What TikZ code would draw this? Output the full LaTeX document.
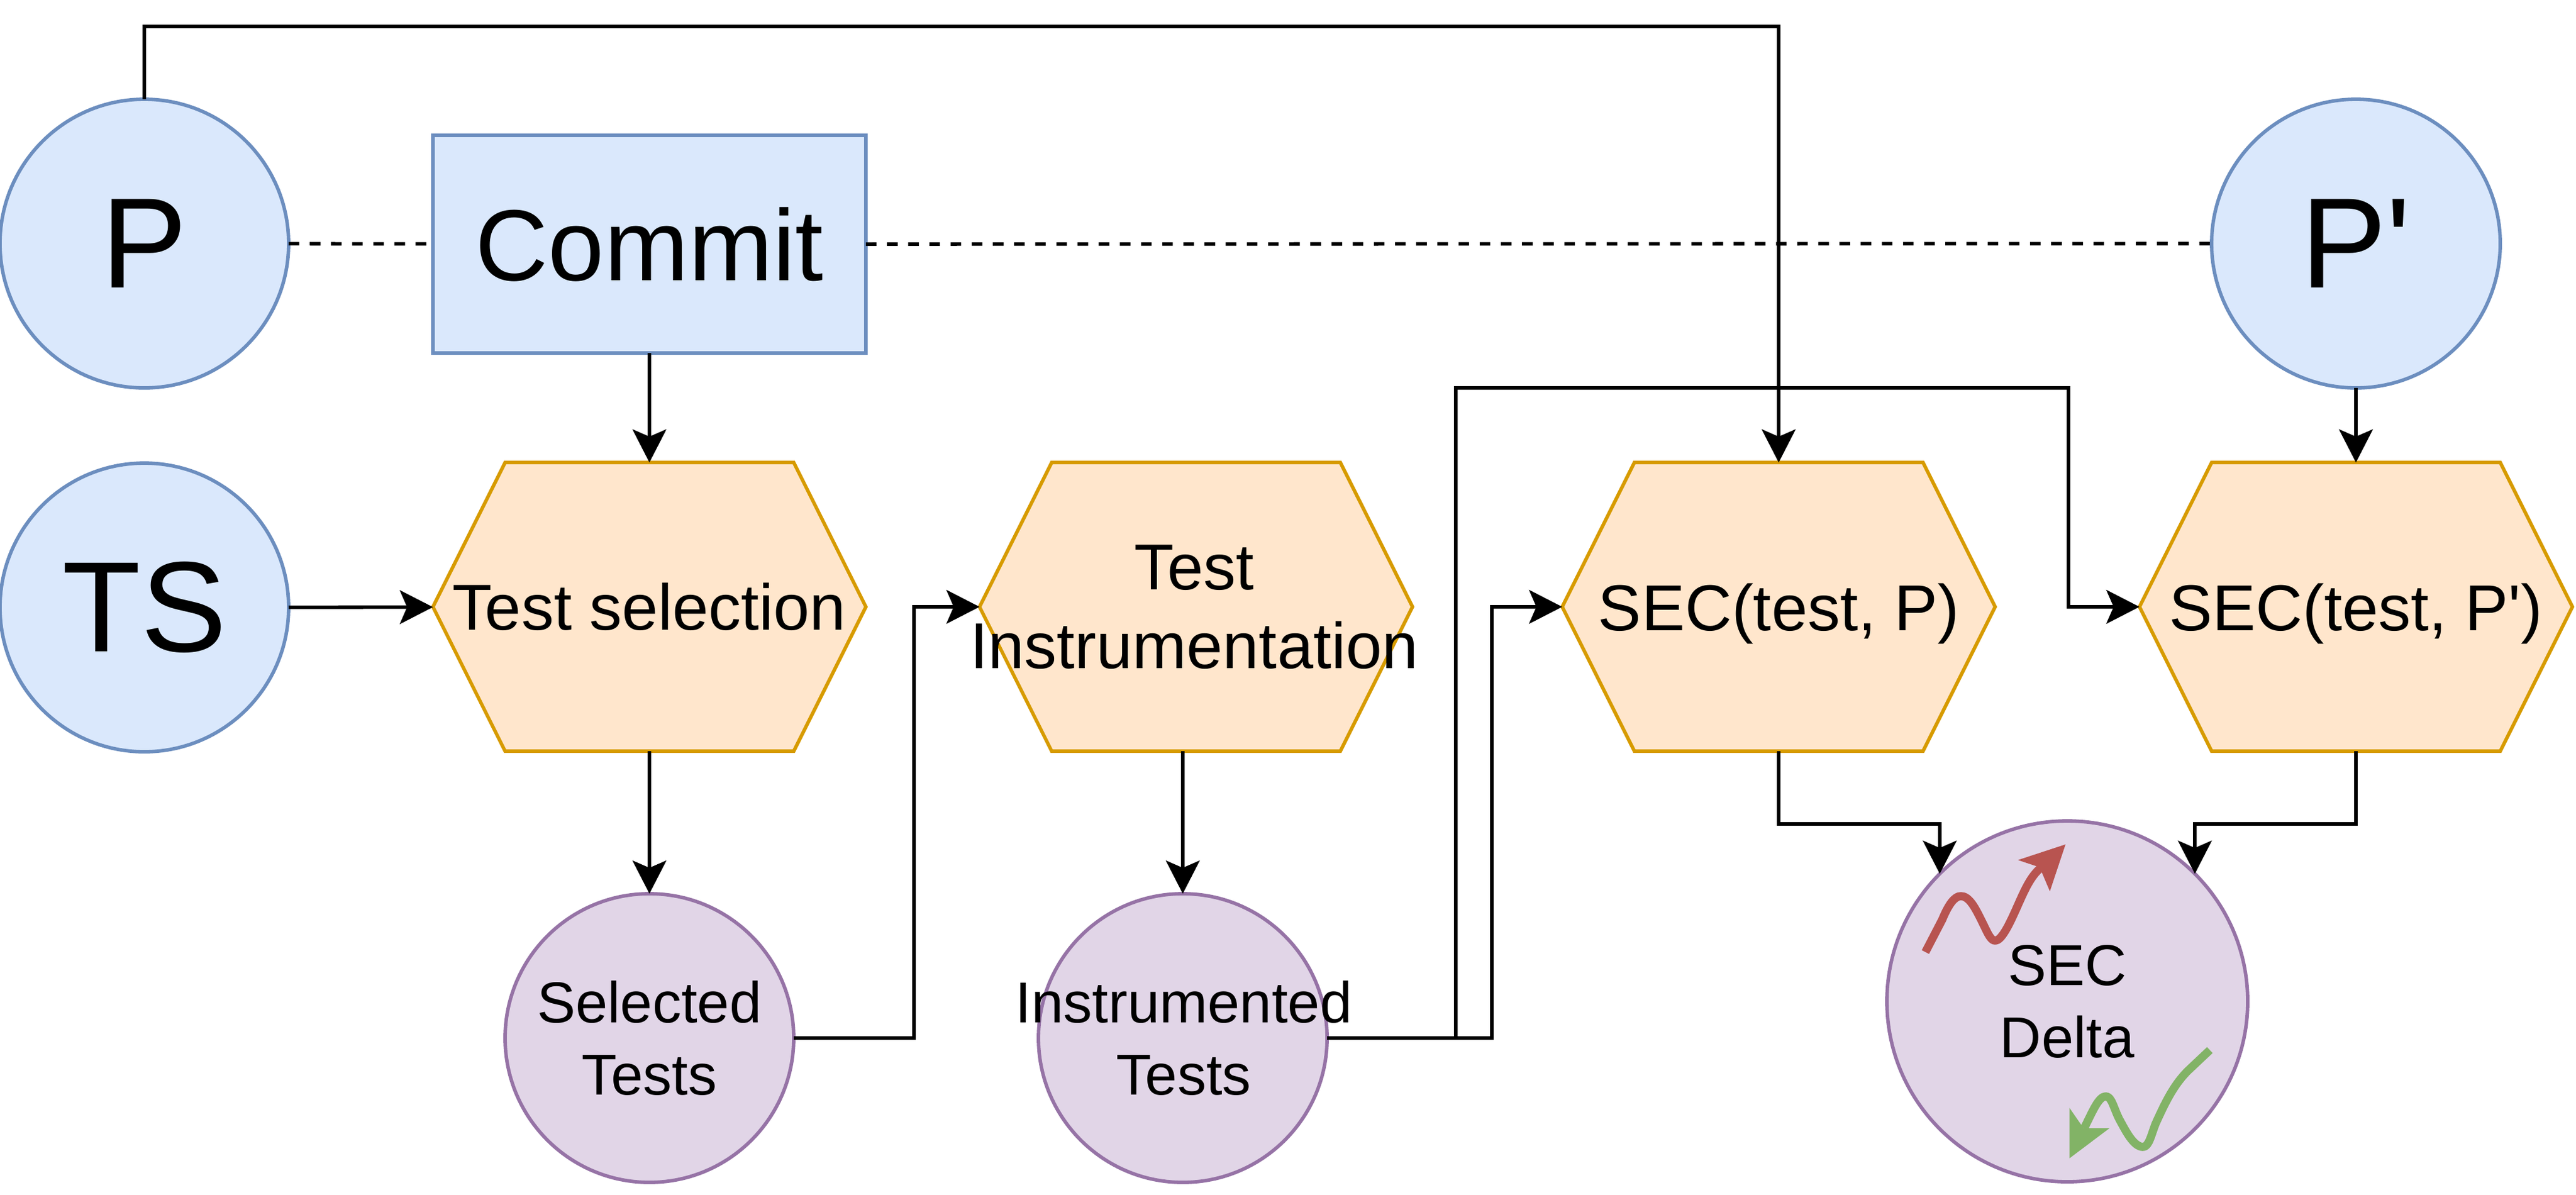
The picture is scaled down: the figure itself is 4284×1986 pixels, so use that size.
\documentclass[tikz,border=0pt]{standalone}
\usepackage{fontspec}
\setmainfont{Liberation Sans}
\newfontfamily\plainfont{Liberation Sans}
\usetikzlibrary{arrows.meta}
\definecolor{bluefill}{HTML}{DAE8FC}
\definecolor{bluedraw}{HTML}{6C8EBF}
\definecolor{orangefill}{HTML}{FFE6CC}
\definecolor{orangedraw}{HTML}{D79B00}
\definecolor{purplefill}{HTML}{E1D5E7}
\definecolor{purpledraw}{HTML}{9673A6}
\definecolor{redline}{HTML}{B85450}
\definecolor{greenline}{HTML}{82B366}
\newcommand\ctr[1]{\makebox[0pt]{#1}}
\newcommand\nodepth[1]{\raisebox{0pt}[\height][0pt]{#1}}
\newcommand\fs[2]{\fontsize{#1}{#2}\selectfont}
\tikzset{
  x=0.25pt,y=-0.25pt,
  every node/.style={inner sep=0pt,outer sep=0pt,text=black,align=center},
  edge/.style={line width=1.45pt,draw=black,line join=miter},
  arrow/.style={edge,-{Stealth[length=13.75pt,width=14pt,inset=3pt]}},
  dashline/.style={edge,dash pattern=on 4.4pt off 4.4pt},
  bluecircle/.style={shape=circle,draw=bluedraw,fill=bluefill,line width=1.45pt,minimum size=120pt},
  purplecircle/.style={shape=circle,draw=purpledraw,fill=purplefill,line width=1.45pt,minimum size=120pt},
  commitbox/.style={shape=rectangle,draw=bluedraw,fill=bluefill,line width=1.45pt,minimum width=180pt,minimum height=90.5pt},
  hexshape/.style={draw=orangedraw,fill=orangefill,line width=1.45pt,line join=miter},
  hexlabel/.style={shape=rectangle,minimum width=180pt,minimum height=120pt},
  bigtext/.style={font=\fs{53.5}{64}},
  midtext/.style={font=\fs{42}{50}},
  hextext/.style={font=\fs{27}{32.8}},
  smalltext/.style={font=\fs{24}{30}},
  squiggle/.style={line width=3.4pt,line cap=butt,line join=round},
}
\newcommand\hexnode[4]{%
  \filldraw[hexshape] (#2-360,#3) -- (#2-240,#3-240) -- (#2+240,#3-240) -- (#2+360,#3) -- (#2+240,#3+240) -- (#2-240,#3+240) -- cycle;
  \node[hexlabel,hextext] (#1) at (#2,#3) {#4};
}
\begin{document}
\begin{tikzpicture}
\useasboundingbox (0,0) rectangle (4284,1986);
\fill[white] (0,0) rectangle (4284,1986);

\node[bluecircle,bigtext] (p) at (240,405) {P};
\node[bluecircle,bigtext] (ts) at (240,1010) {TS};
\node[bluecircle,bigtext] (pp) at (3918,405) {\plainfont P'};
\node[commitbox,midtext] (commit) at (1080,406) {Commit};

\hexnode{sel}{1080}{1009}{\ctr{Test selection}}
\hexnode{instr}{1989}{1009}{\ctr{\hspace{-1.5pt}Test}\\\ctr{\hspace{-1.5pt}Instrumentation}}
\hexnode{secp}{2958}{1009}{\ctr{\nodepth{SEC(test, P)}}}
\hexnode{secq}{3918}{1009}{\ctr{\nodepth{\plainfont SEC(test, P')}}}

\node[purplecircle,smalltext] (seltests) at (1080,1726) {\ctr{Selected}\\\ctr{Tests}};
\node[purplecircle,smalltext] (instests) at (1967,1726) {\ctr{\hspace{0.8pt}Instrumented}\\\ctr{\hspace{0.8pt}Tests}};
\node[purplecircle,minimum size=150pt,smalltext] (delta) at (3438,1665) {\ctr{SEC}\\\ctr{Delta}};

% connectors
\draw[dashline] (p) -- (commit);
\draw[dashline] (commit) -- (pp);
\draw[arrow] (commit) -- (sel);
\draw[arrow] (ts) -- (sel);
\draw[arrow] (sel) -- (seltests);
\draw[arrow] (pp) -- (secq);
\draw[arrow] (seltests.east) -- ++(200,0) |- (instr.west);
\draw[arrow] (instests.north |- instr.south) -- (instests.north);
\draw[arrow] (p.north) -- (240,44) -| (secp.north);
\draw[arrow] (instests.east) -- (2481,1726) |- (secp.west);
\draw[arrow] (instests.east) -- (2421,1726) -- (2421,645) -- (3440,645) |- (secq.west);
\draw[arrow] (secp.south) -- ++(0,121) -| (delta.north west);
\draw[arrow] (secq.south) -- ++(0,121) -| (delta.north east);

% squiggles in the delta circle
\draw[squiggle,redline] (3202,1583) -- (3230,1529) .. controls (3240,1505) and (3250,1490) .. (3261,1490) .. controls (3275,1490) and (3285,1510) .. (3295,1530) .. controls (3305,1550) and (3310,1564) .. (3318,1564) .. controls (3328,1564) and (3340,1540) .. (3350,1518) .. controls (3365,1485) and (3375,1458) .. (3395,1442);
\fill[redline] (3435,1404) -- (3356,1430) -- (3392,1442) -- (3409,1482) -- cycle;
\draw[squiggle,greenline] (3675,1746) -- (3640,1779) .. controls (3615,1803) and (3600,1835) .. (3585,1868) .. controls (3578,1885) and (3574,1907) .. (3564,1907) .. controls (3548,1907) and (3535,1880) .. (3525,1862) .. controls (3515,1843) and (3512,1823) .. (3502,1823) .. controls (3490,1823) and (3480,1848) .. (3466,1876);
\fill[greenline] (3441.5,1926) -- (3441.5,1842) -- (3465,1876) -- (3508,1876) -- cycle;
\end{tikzpicture}
\end{document}
